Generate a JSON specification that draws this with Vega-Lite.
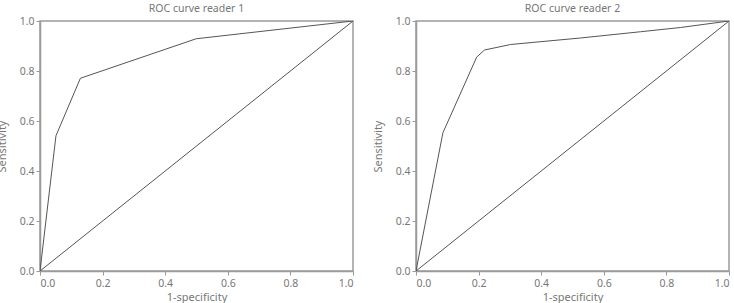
{
  "$schema": "https://vega.github.io/schema/vega-lite/v6.json",
  "padding": {"left": -5, "top": 2, "right": 0, "bottom": 0},
  "spacing": 16,
  "config": {
    "font": "Noto Sans",
    "view": {"stroke": "#9a9a9a", "strokeWidth": 1.5},
    "axis": {
      "grid": false,
      "domainColor": "#9a9a9a",
      "domainWidth": 1.5,
      "tickColor": "#9a9a9a",
      "tickSize": 4,
      "tickWidth": 1,
      "labelColor": "#777777",
      "labelFontSize": 10.5,
      "labelFont": "Noto Sans",
      "titleColor": "#777777",
      "titleFontSize": 11,
      "titleFontWeight": "normal",
      "titleFont": "Noto Sans"
    },
    "axisX": {"labelPadding": 3, "titlePadding": 3},
    "axisY": {"labelPadding": 2, "titlePadding": 12},
    "title": {"fontSize": 10.5, "fontWeight": "normal", "color": "#777777", "offset": 2, "font": "Noto Sans"},
    "line": {"color": "#555555", "strokeWidth": 1}
  },
  "datasets": {
    "roc": [
      {"reader": 1, "series": "curve", "fpr": 0.0, "tpr": 0.0},
      {"reader": 1, "series": "curve", "fpr": 0.051, "tpr": 0.541},
      {"reader": 1, "series": "curve", "fpr": 0.129, "tpr": 0.771},
      {"reader": 1, "series": "curve", "fpr": 0.499, "tpr": 0.929},
      {"reader": 1, "series": "curve", "fpr": 1.0, "tpr": 1.0},
      {"reader": 1, "series": "diagonal", "fpr": 0.0, "tpr": 0.0},
      {"reader": 1, "series": "diagonal", "fpr": 1.0, "tpr": 1.0},
      {"reader": 2, "series": "curve", "fpr": 0.0, "tpr": 0.0},
      {"reader": 2, "series": "curve", "fpr": 0.086, "tpr": 0.553},
      {"reader": 2, "series": "curve", "fpr": 0.194, "tpr": 0.856},
      {"reader": 2, "series": "curve", "fpr": 0.219, "tpr": 0.884},
      {"reader": 2, "series": "curve", "fpr": 0.302, "tpr": 0.906},
      {"reader": 2, "series": "curve", "fpr": 0.525, "tpr": 0.932},
      {"reader": 2, "series": "curve", "fpr": 0.717, "tpr": 0.957},
      {"reader": 2, "series": "curve", "fpr": 0.845, "tpr": 0.974},
      {"reader": 2, "series": "curve", "fpr": 1.0, "tpr": 1.0},
      {"reader": 2, "series": "diagonal", "fpr": 0.0, "tpr": 0.0},
      {"reader": 2, "series": "diagonal", "fpr": 1.0, "tpr": 1.0}
    ]
  },
  "hconcat": [
    {
      "title": "ROC curve reader 1",
      "width": 313,
      "height": 250,
      "data": {"name": "roc"},
      "transform": [{"filter": "datum.reader == 1"}],
      "mark": {"type": "line", "clip": true},
      "encoding": {
        "x": {"field": "fpr", "type": "quantitative", "scale": {"domain": [0, 1], "nice": false}, "title": "1-specificity", "axis": {"values": [0, 0.2, 0.4, 0.6, 0.8, 1], "format": ".1f"}},
        "y": {"field": "tpr", "type": "quantitative", "scale": {"domain": [0, 1], "nice": false}, "title": "Sensitivity", "axis": {"values": [0, 0.2, 0.4, 0.6, 0.8, 1], "format": ".1f"}},
        "detail": {"field": "series"}
      }
    },
    {
      "title": "ROC curve reader 2",
      "width": 313,
      "height": 250,
      "data": {"name": "roc"},
      "transform": [{"filter": "datum.reader == 2"}],
      "mark": {"type": "line", "clip": true},
      "encoding": {
        "x": {"field": "fpr", "type": "quantitative", "scale": {"domain": [0, 1], "nice": false}, "title": "1-specificity", "axis": {"values": [0, 0.2, 0.4, 0.6, 0.8, 1], "format": ".1f"}},
        "y": {"field": "tpr", "type": "quantitative", "scale": {"domain": [0, 1], "nice": false}, "title": "Sensitivity", "axis": {"values": [0, 0.2, 0.4, 0.6, 0.8, 1], "format": ".1f"}},
        "detail": {"field": "series"}
      }
    }
  ]
}
